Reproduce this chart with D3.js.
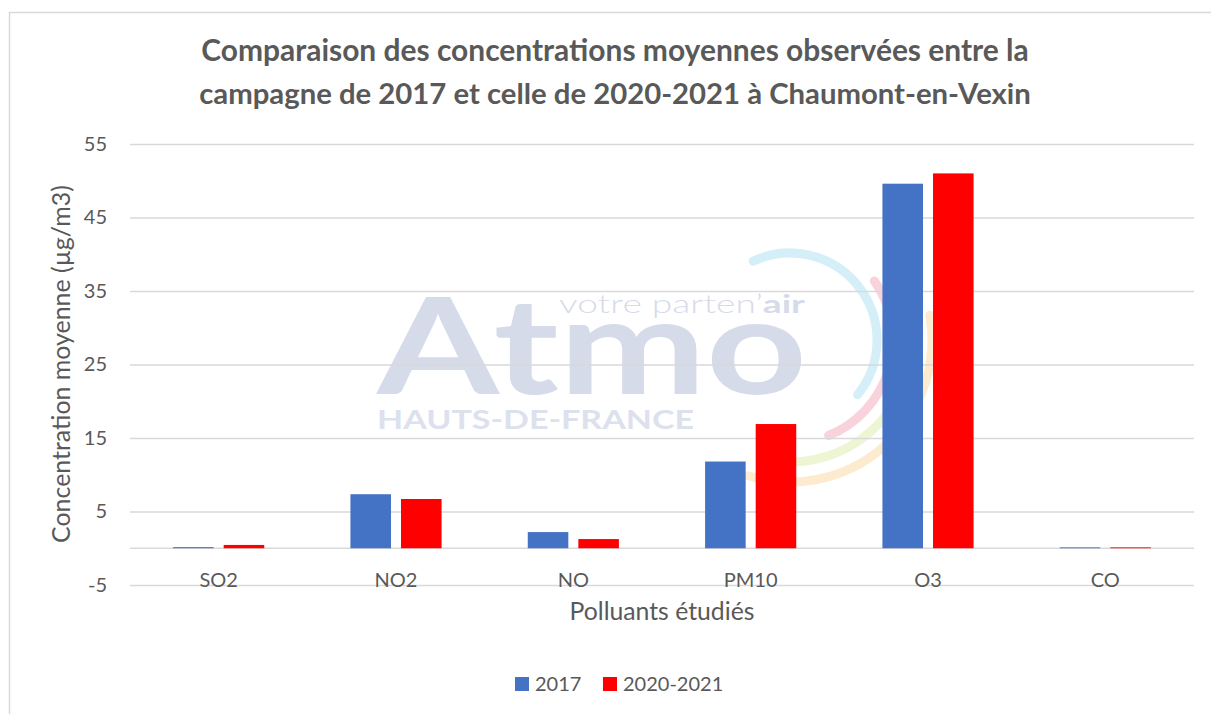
<!DOCTYPE html>
<html>
<head>
<meta charset="utf-8">
<script src="https://cdn.jsdelivr.net/npm/d3@7"></script>
<style>
  body { margin: 0; background: #fff; }
  svg { display: block; font-family: Lato, "Open Sans", sans-serif; }
</style>
</head>
<body>
<svg id="chart" width="1211" height="714"></svg>
<script>
// data
var categories = ["SO2", "NO2", "NO", "PM10", "O3", "CO"];
var seriesNames = ["2017", "2020-2021"];
var values2017 = [0.15, 7.35, 2.2, 11.8, 49.6, 0.12];
var values2021 = [0.45, 6.7, 1.25, 16.9, 51.0, 0.12];
var seriesColors = ["#4472C4", "#FF0000"];
var yTicks = [-5, 5, 15, 25, 35, 45, 55];

var titleLines = [
  "Comparaison des concentrations moyennes observées entre la",
  "campagne de 2017 et celle de 2020-2021 à Chaumont-en-Vexin"
];

var svg = d3.select("#chart");
var textColor = "#595959";
var gridColor = "#d9d9d9";

var left = 130, right = 1194;

var x = d3.scaleBand().domain(categories).range([left, right]);
var x1 = d3.scaleBand().domain(seriesNames)
    .range([x.bandwidth() * 0.243, x.bandwidth() * 0.757])
    .paddingInner(0.198);
var y = d3.scaleLinear().domain([-5, 55]).range([585, 144]);

// make text fit a measured width by changing its font size
function fitWidth(t, w) {
  var cur = t.node().getComputedTextLength();
  var fs = parseFloat(t.attr("font-size"));
  t.attr("font-size", fs * w / cur);
  return fs * w / cur;
}

// chart border
svg.append("rect")
    .attr("x", 9.5).attr("y", 12.5)
    .attr("width", 1300).attr("height", 900)
    .attr("fill", "none")
    .attr("stroke", gridColor)
    .attr("stroke-width", 1.5);

// background watermark
var wm = svg.append("g").attr("class", "watermark");
var arcs = [
  { r: 87, a0: -115, a1: 39, color: "#d4eff8" },
  { r: 103, a0: -35, a1: 68, color: "#f8d3dc" },
  { r: 122, a0: -5, a1: 90, color: "#eef5d3" },
  { r: 142, a0: -10, a1: 107, color: "#fdebd0" }
];
arcs.forEach(function (a) {
  var p = d3.path();
  p.arc(790, 340, a.r, a.a0 * Math.PI / 180, a.a1 * Math.PI / 180);
  wm.append("path")
      .attr("d", p.toString())
      .attr("fill", "none")
      .attr("stroke", a.color)
      .attr("stroke-width", 9)
      .attr("stroke-linecap", "round");
});
wm.append("text")
    .attr("x", 377).attr("y", 394)
    .attr("font-size", 134).attr("font-weight", "bold")
    .attr("fill", "#d6dbea")
    .attr("textLength", 430).attr("lengthAdjust", "spacingAndGlyphs")
    .text("Atmo");
var tag = wm.append("text")
    .attr("x", 559).attr("y", 313)
    .attr("font-size", 25).attr("font-weight", 300)
    .attr("fill", "#d6dbea")
    .attr("textLength", 246).attr("lengthAdjust", "spacingAndGlyphs");
tag.append("tspan").text("votre parten’");
tag.append("tspan").attr("font-weight", "bold").text("air");
wm.append("text")
    .attr("x", 377).attr("y", 429)
    .attr("font-size", 27.5).attr("font-weight", "bold")
    .attr("fill", "#dde1ee")
    .attr("textLength", 317).attr("lengthAdjust", "spacingAndGlyphs")
    .text("HAUTS-DE-FRANCE");

// gridlines + y labels
var yAxis = svg.append("g")
    .attr("transform", "translate(" + left + ",0)")
    .call(d3.axisLeft(y).tickValues(yTicks)
      .tickFormat(function (d) { return String(d); })
      .tickSize(-(right - left)).tickPadding(23));
yAxis.select(".domain").remove();
yAxis.selectAll("line").attr("stroke", gridColor).attr("stroke-width", 1.5);
yAxis.selectAll("text")
    .attr("fill", textColor)
    .attr("font-size", 20)
    .attr("font-family", "Lato, sans-serif");

// zero line
svg.append("line")
    .attr("x1", left).attr("x2", right)
    .attr("y1", y(0)).attr("y2", y(0))
    .attr("stroke", gridColor).attr("stroke-width", 1.5);

// bars
var rows = categories.map(function (c, i) {
  return { cat: c, vals: [values2017[i], values2021[i]] };
});
var groups = svg.append("g").selectAll("g")
    .data(rows)
    .enter().append("g")
    .attr("transform", function (d) { return "translate(" + x(d.cat) + ",0)"; });
groups.selectAll("rect")
    .data(function (d) {
      return d.vals.map(function (v, j) { return { s: seriesNames[j], v: v, c: seriesColors[j] }; });
    })
    .enter().append("rect")
    .attr("x", function (d) { return x1(d.s); })
    .attr("width", x1.bandwidth())
    .attr("y", function (d) { return y(d.v); })
    .attr("height", function (d) { return y(0) - y(d.v); })
    .attr("fill", function (d) { return d.c; });

// category labels
var xAxis = svg.append("g")
    .attr("transform", "translate(0," + y(0) + ")")
    .call(d3.axisBottom(x).tickSize(0));
xAxis.select(".domain").remove();
xAxis.selectAll("text")
    .attr("y", 39).attr("dy", null)
    .attr("fill", textColor)
    .attr("font-size", 20)
    .attr("font-family", "Lato, sans-serif");

// title
var t1 = svg.append("text")
    .attr("x", 615).attr("y", 61)
    .attr("text-anchor", "middle")
    .attr("font-size", 26).attr("font-weight", "bold")
    .attr("fill", textColor)
    .text(titleLines[0]);
fitWidth(t1, 828);
var t2 = svg.append("text")
    .attr("x", 615).attr("y", 104)
    .attr("text-anchor", "middle")
    .attr("font-size", 26).attr("font-weight", "bold")
    .attr("fill", textColor)
    .text(titleLines[1]);
fitWidth(t2, 832);

// axis titles
var yt = svg.append("text")
    .attr("transform", "translate(70,364) rotate(-90)")
    .attr("text-anchor", "middle")
    .attr("font-size", 21)
    .attr("fill", textColor)
    .text("Concentration moyenne (µg/m3)");
fitWidth(yt, 358);

var xt = svg.append("text")
    .attr("x", 662).attr("y", 620)
    .attr("text-anchor", "middle")
    .attr("font-size", 21)
    .attr("fill", textColor)
    .text("Polluants étudiés");
fitWidth(xt, 185);

// legend
var legendX = [515, 603];
var legend = svg.append("g").selectAll("g")
    .data(seriesNames)
    .enter().append("g")
    .attr("transform", function (d, i) { return "translate(" + legendX[i] + ",677)"; });
legend.append("rect")
    .attr("width", 14).attr("height", 14)
    .attr("fill", function (d, i) { return seriesColors[i]; });
legend.append("text")
    .attr("x", 20).attr("y", 14)
    .attr("font-size", 20)
    .attr("fill", textColor)
    .text(function (d) { return d; });
</script>
</body>
</html>
